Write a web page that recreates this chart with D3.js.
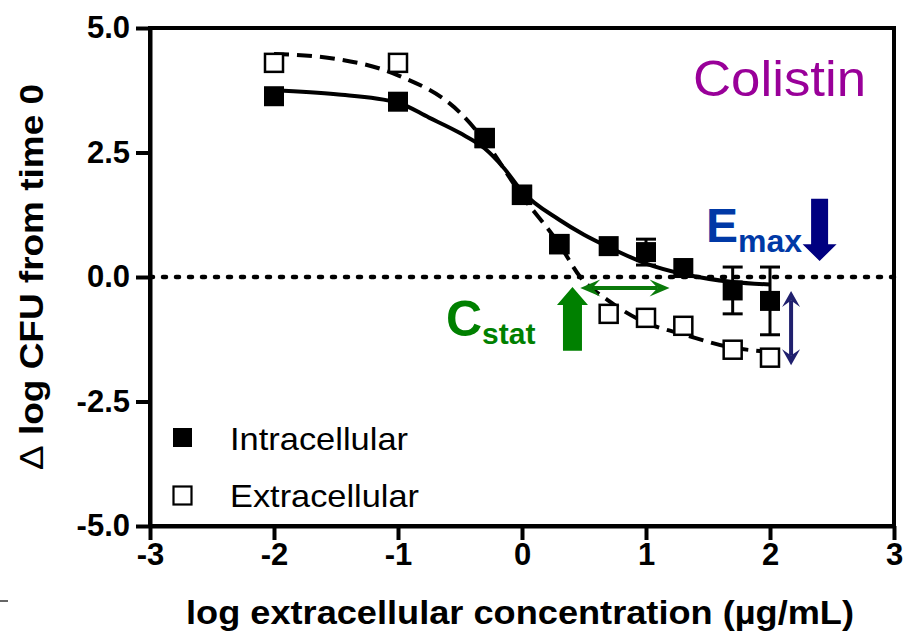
<!DOCTYPE html>
<html>
<head>
<meta charset="utf-8">
<script src="https://cdn.jsdelivr.net/npm/d3@7"></script>
<style>
  html, body { margin: 0; padding: 0; background: #ffffff; }
  svg { display: block; }
  text { font-family: "Liberation Sans", Arial, sans-serif; }
</style>
</head>
<body>
<svg id="chart" width="907" height="639"></svg>
<script>
// ---- data ----
const concX      = [-2, -1, -0.301, 0, 0.301, 0.699, 1, 1.301, 1.699, 2];
const intraY     = [3.63, 3.52, 2.79, 1.65, 0.66, 0.62, 0.50, 0.18, -0.27, -0.48];
const intraErr   = [0, 0, 0, 0, 0, 0, 0.26, 0, 0.47, 0.68];
const extraY     = [4.30, 4.30, 2.79, 1.65, 0.66, -0.74, -0.82, -0.98, -1.46, -1.62];

const intraFitX  = [-2, -1.5, -1, -0.75, -0.5, -0.3, -0.15, 0, 0.3, 0.5, 0.7, 1, 1.3, 1.7, 2];
const intraFitY  = [3.75, 3.67, 3.5, 3.2, 2.89, 2.58, 2.2, 1.72, 1.15, 0.85, 0.6, 0.27, 0.06, -0.1, -0.15];
const extraFitX  = [-2, -1.5, -1, -0.5, -0.3, 0, 0.3, 0.47, 0.7, 1, 1.3, 1.7, 2];
const extraFitY  = [4.48, 4.38, 4.05, 3.3, 2.73, 1.63, 0.66, 0.0, -0.48, -0.92, -1.15, -1.42, -1.5];

const xTicks = [-3, -2, -1, 0, 1, 2, 3];
const yTicks = [5, 2.5, 0, -2.5, -5];
const seriesNames = ["Intracellular", "Extracellular"];

// ---- layout ----
const svg = d3.select("#chart");
const x = d3.scaleLinear().domain([-3, 3]).range([150, 894]);
const y = d3.scaleLinear().domain([-5, 5]).range([526, 28]);

// zero reference line (dotted)
svg.append("line")
  .attr("x1", x(-3)).attr("x2", x(3))
  .attr("y1", y(0)).attr("y2", y(0))
  .attr("stroke", "#000").attr("stroke-width", 4.5)
  .attr("stroke-dasharray", "3,10").attr("stroke-linecap", "round");

// frame
svg.append("rect")
  .attr("x", x(-3)).attr("y", y(5))
  .attr("width", x(3) - x(-3)).attr("height", y(-5) - y(5))
  .attr("fill", "none").attr("stroke", "#000").attr("stroke-width", 4);

// axes
const yAxis = d3.axisLeft(y).tickValues(yTicks).tickSize(14).tickSizeOuter(0)
  .tickPadding(6).tickFormat(d => d.toFixed(1));
const xAxis = d3.axisBottom(x).tickValues(xTicks).tickSize(14).tickSizeOuter(0)
  .tickPadding(3).tickFormat(d => String(d));

const gy = svg.append("g").attr("transform", `translate(${x(-3)},0)`).call(yAxis);
const gx = svg.append("g").attr("transform", `translate(0,${y(-5)})`).call(xAxis);
[gx, gy].forEach(g => {
  g.select(".domain").attr("stroke-width", 4);
  g.selectAll(".tick line").attr("stroke-width", 4);
  g.selectAll(".tick text")
    .attr("font-family", "'Liberation Sans', Arial, sans-serif")
    .attr("font-weight", "bold").attr("font-size", 31).attr("fill", "#000");
});

// axis titles
svg.append("text")
  .attr("x", 520).attr("y", 624)
  .attr("text-anchor", "middle")
  .attr("font-weight", "bold").attr("font-size", 34)
  .attr("textLength", 668).attr("lengthAdjust", "spacingAndGlyphs")
  .text("log extracellular concentration (µg/mL)");

const yt = svg.append("text")
  .attr("transform", "translate(43,277) rotate(-90)")
  .attr("text-anchor", "middle")
  .attr("font-weight", "bold").attr("font-size", 34)
  .attr("textLength", 386).attr("lengthAdjust", "spacingAndGlyphs");
yt.append("tspan").attr("font-weight", "normal").text("\u0394");
yt.append("tspan").text(" log CFU from time 0");

// fitted curves
const line = d3.line().x(d => x(d[0])).y(d => y(d[1])).curve(d3.curveMonotoneX);
svg.append("path")
  .datum(extraFitX.map((v, i) => [v, extraFitY[i]]))
  .attr("d", line).attr("fill", "none").attr("stroke", "#000")
  .attr("stroke-width", 4).attr("stroke-dasharray", "15,8");
svg.append("path")
  .datum(intraFitX.map((v, i) => [v, intraFitY[i]]))
  .attr("d", line).attr("fill", "none").attr("stroke", "#000")
  .attr("stroke-width", 4);

// markers
const S = 20;
svg.append("g").selectAll("rect")
  .data(concX.map((v, i) => [v, extraY[i]]))
  .join("rect")
  .attr("x", d => x(d[0]) - S / 2 + 1).attr("y", d => y(d[1]) - S / 2 + 1)
  .attr("width", S - 2).attr("height", S - 2)
  .attr("fill", "#fff").attr("stroke", "#000").attr("stroke-width", 2.5);

// error bars (intracellular)
const eb = svg.append("g").attr("stroke", "#000").attr("stroke-width", 3);
concX.forEach((v, i) => {
  if (!intraErr[i]) return;
  const cx = x(v), top = y(intraY[i] + intraErr[i]), bot = y(intraY[i] - intraErr[i]);
  eb.append("line").attr("x1", cx).attr("x2", cx).attr("y1", top).attr("y2", bot);
  eb.append("line").attr("x1", cx - 10).attr("x2", cx + 10).attr("y1", top).attr("y2", top);
  eb.append("line").attr("x1", cx - 10).attr("x2", cx + 10).attr("y1", bot).attr("y2", bot);
});

svg.append("g").selectAll("rect")
  .data(concX.map((v, i) => [v, intraY[i]]))
  .join("rect")
  .attr("x", d => x(d[0]) - S / 2).attr("y", d => y(d[1]) - S / 2)
  .attr("width", S).attr("height", S).attr("fill", "#000");

// legend
const lg = svg.append("g");
lg.append("rect").attr("x", 173).attr("y", 428).attr("width", 19).attr("height", 19).attr("fill", "#000");
lg.append("rect").attr("x", 173.5).attr("y", 486.5).attr("width", 18).attr("height", 18)
  .attr("fill", "#fff").attr("stroke", "#000").attr("stroke-width", 2.2);
lg.append("text").attr("x", 230).attr("y", 450).attr("font-size", 32)
  .attr("textLength", 178).attr("lengthAdjust", "spacingAndGlyphs").text(seriesNames[0]);
lg.append("text").attr("x", 230).attr("y", 507).attr("font-size", 32)
  .attr("textLength", 189).attr("lengthAdjust", "spacingAndGlyphs").text(seriesNames[1]);

// title
svg.append("text").attr("x", 693).attr("y", 96).attr("font-size", 50)
  .attr("fill", "#990099")
  .attr("textLength", 173).attr("lengthAdjust", "spacingAndGlyphs")
  .text("Colistin");

// ---- annotations ----
// Emax label
const em = svg.append("text").attr("x", 706).attr("y", 242).attr("fill", "#0039a6").attr("font-weight", "bold");
em.append("tspan").attr("font-size", 48).text("E");
em.append("tspan").attr("font-size", 32).attr("dy", 10).text("max");

// Emax down arrow (navy)
function vArrow(cx, tipY, headY, tailY, shaftW, headW, color) {
  const pts = [
    [cx - shaftW / 2, tailY], [cx + shaftW / 2, tailY],
    [cx + shaftW / 2, headY], [cx + headW / 2, headY],
    [cx, tipY], [cx - headW / 2, headY], [cx - shaftW / 2, headY]
  ];
  svg.append("polygon").attr("points", pts.map(p => p.join(",")).join(" ")).attr("fill", color);
}
vArrow(x(2.40), y(0.32), y(0.66), y(1.57), 17, 34, "#000080");

// Cstat label
const cs = svg.append("text").attr("x", 446).attr("y", 336).attr("fill", "#008000").attr("font-weight", "bold");
cs.append("tspan").attr("font-size", 50).text("C");
cs.append("tspan").attr("font-size", 30).attr("dy", 8).text("stat");

// Cstat up arrow (green)
vArrow(x(0.407), y(-0.2), y(-0.56), y(-1.48), 19, 31, "#008000");

// double arrows
function dArrow(x1, y1, x2, y2, len, half, color) {
  const g = svg.append("g");
  const ang = Math.atan2(y2 - y1, x2 - x1);
  const ux = Math.cos(ang), uy = Math.sin(ang);
  g.append("line")
    .attr("x1", x1 + ux * len * 0.6).attr("y1", y1 + uy * len * 0.6)
    .attr("x2", x2 - ux * len * 0.6).attr("y2", y2 - uy * len * 0.6)
    .attr("stroke", color).attr("stroke-width", 4);
  const head = (tx, ty, s) => {
    const bx = tx - s * ux * len, by = ty - s * uy * len;
    const pts = [[tx, ty], [bx - uy * half, by + ux * half], [tx - s * ux * len * 0.6, ty - s * uy * len * 0.6], [bx + uy * half, by - ux * half]];
    g.append("polygon").attr("points", pts.map(p => p.join(",")).join(" ")).attr("fill", color);
  };
  head(x2, y2, 1);
  head(x1, y1, -1);
}
dArrow(x(0.47), y(-0.22), x(1.19), y(-0.22), 20, 8.5, "#0a7a0a");
dArrow(x(2.17), y(-0.28), x(2.17), y(-1.77), 16, 9, "#20206e");

// small stray mark at lower left
svg.append("line").attr("x1", 0).attr("x2", 8).attr("y1", 601).attr("y2", 601)
  .attr("stroke", "#333").attr("stroke-width", 1.5);
</script>
</body>
</html>
